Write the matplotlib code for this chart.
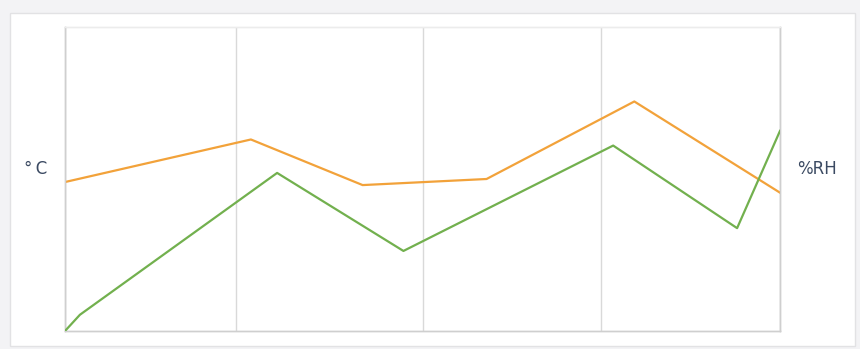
import matplotlib.pyplot as plt
from matplotlib.patches import Rectangle

# Temperatura (eixo °C) e umidade relativa (eixo %RH) ao longo do dia (horas)
temp_horas = [0, 6.24, 9.99, 14.15, 19.11, 24]
temp_c = [19.8, 22.6, 19.6, 20.0, 25.1, 19.1]

umid_horas = [0, 0.5, 7.12, 11.36, 18.4, 22.56, 24]
umid_rh = [30.0, 33.2, 61.2, 45.8, 66.6, 50.3, 69.5]

grade_horas = [0, 5.75, 12, 18, 24]

cor_temp = '#f2a23a'
cor_umid = '#72b04e'
cor_texto = '#3b4a62'
cor_grade = '#d9d9d9'

fig = plt.figure(figsize=(8.6, 3.49), dpi=100, facecolor='#f3f3f5')
# painel branco atrás do gráfico
fig.patches.append(Rectangle((10 / 860, 3 / 349), 845 / 860, 333 / 349,
                             transform=fig.transFigure, facecolor='white',
                             edgecolor='#e2e2e4', linewidth=1, zorder=-5))

ax = fig.add_axes([65 / 860, 18 / 349, 715 / 860, 304 / 349])
ax2 = ax.twinx()
ax.set_zorder(1)
ax2.set_zorder(2)
ax.patch.set_alpha(0)
ax2.patch.set_alpha(0)

ax.plot(temp_horas, temp_c, color=cor_temp, linewidth=1.6, zorder=3)
ax2.plot(umid_horas, umid_rh, color=cor_umid, linewidth=1.6, zorder=3)

ax.set_xlim(0, 24)
ax.set_ylim(10, 30)
ax2.set_ylim(30, 90)

ax.set_xticks(grade_horas)
ax.grid(axis='x', color=cor_grade, linewidth=1)
ax.grid(axis='y', visible=False)
for a in (ax, ax2):
    a.tick_params(left=False, right=False, bottom=False, top=False,
                  labelleft=False, labelright=False, labelbottom=False)
    for lado in ('left', 'right', 'bottom'):
        a.spines[lado].set_color('#cfcfcf')
        a.spines[lado].set_linewidth(1)
    a.spines['top'].set_color('#ececec')
    a.spines['top'].set_linewidth(1)
ax2.set_yticks([])

fig.text(36 / 860, 1 - 169 / 349, '°\u2009C', ha='center', va='center',
         fontsize=12, color=cor_texto, family='DejaVu Sans')
fig.text(817 / 860, 1 - 169 / 349, '%RH', ha='center', va='center',
         fontsize=12, color=cor_texto, family='DejaVu Sans')

fig.savefig('out.png', dpi=100, facecolor=fig.get_facecolor())
